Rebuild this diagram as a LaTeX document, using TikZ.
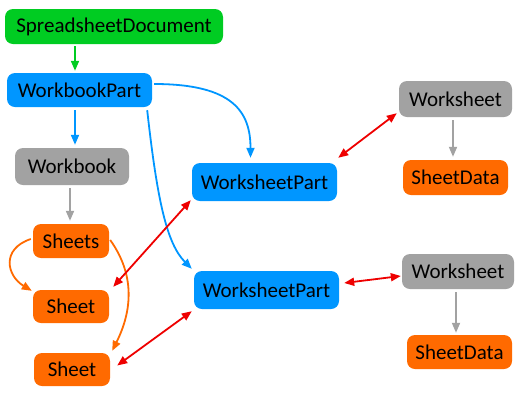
\documentclass[tikz,border=0pt]{standalone}
\usepackage{fontspec}
\setmainfont{Carlito}
\usetikzlibrary{arrows.meta,calc}
\definecolor{cgreen}{RGB}{0,204,34}
\definecolor{cblue}{RGB}{0,150,255}
\definecolor{corange}{RGB}{255,106,0}
\definecolor{cgray}{RGB}{162,162,162}
\definecolor{cred}{RGB}{238,0,0}
\begin{document}
\begin{tikzpicture}[x=1pt,y=-1pt,
  box/.style={rounded corners=8pt, inner sep=0pt, text=black, font=\fontsize{21}{24}\selectfont},
  gbox/.style={box, fill=cgreen},
  bbox/.style={box, fill=cblue},
  obox/.style={box, fill=corange},
  ybox/.style={box, fill=cgray},
  conn/.style={line width=1.8pt, -{Triangle[length=10pt,width=8pt]}},
  dconn/.style={line width=1.8pt, {Triangle[length=10pt,width=8pt]}-{Triangle[length=10pt,width=8pt]}, draw=cred}
]
\useasboundingbox (0,0) rectangle (520,400);
\node[gbox, minimum width=218pt, minimum height=35pt] (sd) at (114,26.5) {SpreadsheetDocument};
\node[bbox, minimum width=145pt, minimum height=34pt] (wbp) at (79.5,90) {WorkbookPart};
\node[ybox, minimum width=114pt, minimum height=37pt] (wb) at (72,166.5) {Workbook};
\node[obox, minimum width=76pt, minimum height=34pt] (sh) at (71,241) {Sheets};
\node[obox, minimum width=76pt, minimum height=33pt] (s1) at (71,306.5) {Sheet};
\node[obox, minimum width=76pt, minimum height=33pt] (s2) at (72,369.5) {Sheet};
\node[bbox, minimum width=145pt, minimum height=38pt] (wsp1) at (264.5,182) {WorksheetPart};
\node[bbox, minimum width=145pt, minimum height=38pt] (wsp2) at (266.5,290) {WorksheetPart};
\node[ybox, minimum width=113pt, minimum height=36pt] (ws1) at (455.5,99) {Worksheet};
\node[obox, minimum width=105pt, minimum height=35pt] (sdt1) at (455.5,177.5) {SheetData};
\node[ybox, minimum width=112pt, minimum height=35pt] (ws2) at (458,271.5) {Worksheet};
\node[obox, minimum width=105pt, minimum height=34pt] (sdt2) at (459.5,352) {SheetData};

\draw[conn, draw=cgreen, fill=cgreen] ($(sd.south -| wbp.center)+(-4.5,2)$) -- ($(wbp.north)+(-4.5,-2)$);
\draw[conn, draw=cblue] ($(wbp.south)+(-4.5,3)$) -- ($(wb.north)+(3,-3)$);
\draw[conn, draw=cgray] ($(wb.south)+(-2,3)$) -- ($(sh.north)+(-1,-3)$);
\draw[conn, draw=cgray] ($(ws1.south)+(-2.5,3)$) -- ($(sdt1.north)+(-2.5,-3)$);
\draw[conn, draw=cgray] ($(ws2.south)+(-2,3)$) -- ($(sdt2.north)+(-3.5,-2)$);

\draw[conn, draw=cblue] ($(wbp.east)+(2,-6)$) .. controls +(80,0) and +(0,-45) .. ($(wsp1.north)+(-14,-5)$);
\draw[conn, draw=cblue] ($(wbp.south east)+(-5,3)$) .. controls +(10,90) and +(-25,-25) .. ($(wsp2.north west)+(-2,-2)$);

\draw[conn, draw=corange] ($(sh.west)+(-2,-2)$) .. controls +(-30,10) and +(-25,-15) .. ($(s1.north west)+(-1,1)$);
\draw[conn, draw=corange] ($(sh.east)+(1,-1)$) .. controls +(25,35) and +(20,-40) .. ($(s2.north east)+(2,-2)$);

\draw[dconn] ($(s1.north east)+(4,-3)$) -- ($(wsp1.south west)+(-1,-1)$);
\draw[dconn] ($(s2.east)+(7,-4)$) -- ($(wsp2.south west)+(-2,2)$);
\draw[dconn] ($(wsp1.north east)+(1,-5)$) -- ($(ws1.south west)+(-2,-4)$);
\draw[dconn] ($(wsp2.east)+(5,-7)$) -- ($(ws2.west)+(-1,4.5)$);
\end{tikzpicture}
\end{document}
